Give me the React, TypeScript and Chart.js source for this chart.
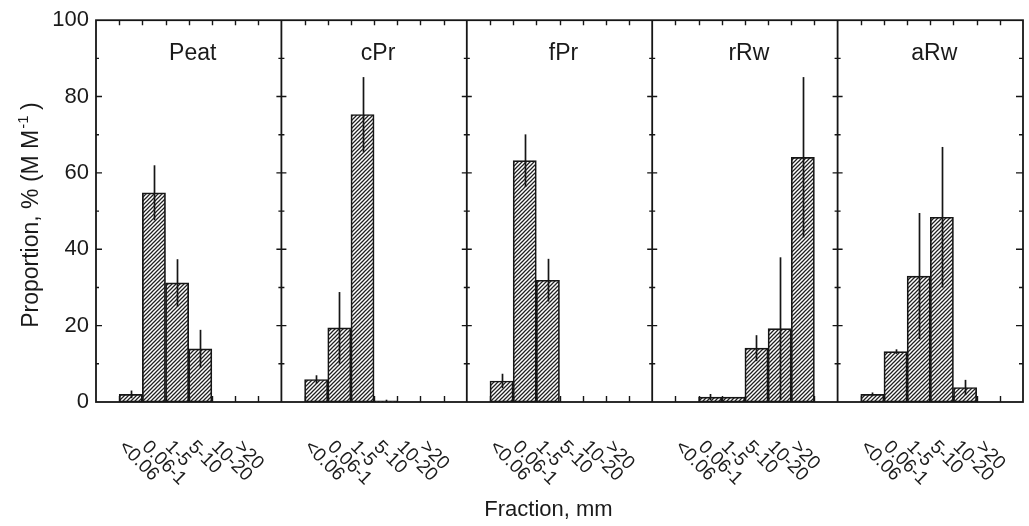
import { useEffect, useRef } from "react";
import { Chart, registerables } from "chart.js";

Chart.register(...registerables);

// Sample types (one panel each) and size fractions (one bar each)
const panels = ["Peat", "cPr", "fPr", "rRw", "aRw"];
const fractions = ["<0.06", "0.06-1", "1-5", "5-10", "10-20", ">20"];
const yTickValues = [0, 20, 40, 60, 80, 100];

// Mean proportion, % (M M-1), and the error half-width for each fraction
const peatMean = [2.0, 54.8, 31.2, 13.9, 0, 0];
const peatErr = [1.0, 7.2, 6.2, 5.0, 0, 0];
const cprMean = [5.9, 19.4, 75.3, 0.3, 0, 0];
const cprErr = [1.1, 9.4, 9.8, 0.3, 0, 0];
const fprMean = [5.5, 63.2, 31.9, 0, 0, 0];
const fprErr = [1.9, 6.9, 5.6, 0, 0, 0];
const rrwMean = [0, 1.3, 1.3, 14.1, 19.2, 64.1];
const rrwErr = [0, 0.8, 0, 3.4, 18.7, 21.0];
const arwMean = [2.0, 13.2, 33.0, 48.4, 3.8, 0];
const arwErr = [0.5, 0.6, 16.5, 18.4, 2.0, 0];

const means = [peatMean, cprMean, fprMean, rrwMean, arwMean];
const errs = [peatErr, cprErr, fprErr, rrwErr, arwErr];

// Each panel is 8 slots wide: an empty slot, six bars, an empty slot
const SLOTS = 8;
const slotOf = (p: number, i: number) => p * SLOTS + 1 + i;

const INK = "#161616";
const TEXT = "#1a1a1a";
const FONT = "'Liberation Sans', Arial, Helvetica, sans-serif";

function makeHatch(): CanvasPattern | string {
  const s = 4;
  const c = document.createElement("canvas");
  c.width = s;
  c.height = s;
  const g = c.getContext("2d");
  if (!g) return "#888";
  g.fillStyle = "#ffffff";
  g.fillRect(0, 0, s, s);
  g.strokeStyle = "#202020";
  g.lineWidth = 1.25;
  g.beginPath();
  g.moveTo(0, s);
  g.lineTo(s, 0);
  g.moveTo(-1, 1);
  g.lineTo(1, -1);
  g.moveTo(s - 1, s + 1);
  g.lineTo(s + 1, s - 1);
  g.stroke();
  const pat = g.createPattern(c, "repeat");
  return pat || "#888";
}

// Error bars: plain vertical lines through the bar tops
const errorBars = {
  id: "errorBars",
  afterDatasetsDraw(chart: any) {
    const { ctx } = chart;
    const x = chart.scales.x;
    const y = chart.scales.y;
    ctx.save();
    ctx.strokeStyle = INK;
    ctx.lineWidth = 1.7;
    means.forEach((m, p) => {
      m.forEach((v, i) => {
        const e = errs[p][i];
        if (!e) return;
        const px = Math.round(x.getPixelForValue(slotOf(p, i))) + 0.5;
        ctx.beginPath();
        ctx.moveTo(px, y.getPixelForValue(Math.max(0, v - e)));
        ctx.lineTo(px, y.getPixelForValue(v + e));
        ctx.stroke();
      });
    });
    ctx.restore();
  },
};

// Frame, panel dividers, inward ticks, panel names and axis texts
const frame = {
  id: "frame",
  afterDraw(chart: any) {
    const { ctx, chartArea: a } = chart;
    const x = chart.scales.x;
    const y = chart.scales.y;
    const edge = (v: number) => x.getPixelForValue(v - 0.5);
    ctx.save();
    ctx.strokeStyle = INK;
    ctx.lineWidth = 1.8;
    ctx.strokeRect(a.left, a.top, a.right - a.left, a.bottom - a.top);

    const minor = [10, 30, 50, 70, 90];
    const major = [20, 40, 60, 80];
    ctx.lineWidth = 1.4;
    ctx.beginPath();
    // left axis, ticks pointing in
    major.forEach((v) => {
      const py = y.getPixelForValue(v);
      ctx.moveTo(a.left, py);
      ctx.lineTo(a.left + 6, py);
    });
    minor.forEach((v) => {
      const py = y.getPixelForValue(v);
      ctx.moveTo(a.left, py);
      ctx.lineTo(a.left + 3, py);
    });
    // right edge, ticks pointing in
    major.forEach((v) => {
      const py = y.getPixelForValue(v);
      ctx.moveTo(a.right, py);
      ctx.lineTo(a.right - 7, py);
    });
    minor.forEach((v) => {
      const py = y.getPixelForValue(v);
      ctx.moveTo(a.right, py);
      ctx.lineTo(a.right - 4, py);
    });
    ctx.stroke();

    // panel dividers with ticks crossing both ways
    ctx.lineWidth = 1.8;
    ctx.beginPath();
    for (let p = 1; p < panels.length; p++) {
      const px = edge(p * SLOTS);
      ctx.moveTo(px, a.top);
      ctx.lineTo(px, a.bottom);
    }
    ctx.stroke();
    ctx.lineWidth = 1.4;
    ctx.beginPath();
    for (let p = 1; p < panels.length; p++) {
      const px = edge(p * SLOTS);
      major.forEach((v) => {
        const py = y.getPixelForValue(v);
        ctx.moveTo(px - 5, py);
        ctx.lineTo(px + 5, py);
      });
      minor.forEach((v) => {
        const py = y.getPixelForValue(v);
        ctx.moveTo(px - 3, py);
        ctx.lineTo(px + 3, py);
      });
    }
    // top and bottom ticks at every bar edge
    for (let p = 0; p < panels.length; p++) {
      for (let k = 1; k < SLOTS; k++) {
        const px = Math.round(edge(p * SLOTS + k)) + 0.5;
        ctx.moveTo(px, a.top);
        ctx.lineTo(px, a.top + 5);
        ctx.moveTo(px, a.bottom);
        ctx.lineTo(px, a.bottom - 6);
      }
    }
    ctx.stroke();

    ctx.fillStyle = TEXT;
    // panel names
    ctx.font = `23px ${FONT}`;
    ctx.textAlign = "center";
    ctx.textBaseline = "middle";
    panels.forEach((name, p) => {
      ctx.fillText(name, x.getPixelForValue(p * SLOTS + 3.5) + 4, 54);
    });

    // slanted fraction labels under each bar
    ctx.font = `19px ${FONT}`;
    ctx.textAlign = "left";
    ctx.textBaseline = "middle";
    panels.forEach((_, p) => {
      fractions.forEach((f, i) => {
        const cx = x.getPixelForValue(slotOf(p, i));
        ctx.save();
        ctx.translate(cx - 9, a.bottom + 42);
        ctx.rotate(Math.PI / 4);
        ctx.fillText(f, 0, 0);
        ctx.restore();
      });
    });

    // x-axis title
    ctx.font = `22px ${FONT}`;
    ctx.textAlign = "center";
    ctx.fillText("Fraction, mm", (a.left + a.right) / 2 - 11, 510);

    // y-axis title with superscript
    const main = "Proportion, % (M M";
    const sup = "-1";
    const tail = " )";
    ctx.font = `23px ${FONT}`;
    const w1 = ctx.measureText(main).width;
    const w3 = ctx.measureText(tail).width;
    ctx.font = `15px ${FONT}`;
    const w2 = ctx.measureText(sup).width;
    const total = w1 + w2 + w3;
    ctx.save();
    ctx.translate(32, (a.top + a.bottom) / 2 + 4);
    ctx.rotate(-Math.PI / 2);
    ctx.textAlign = "left";
    ctx.textBaseline = "middle";
    ctx.font = `23px ${FONT}`;
    ctx.fillText(main, -total / 2, 0);
    ctx.font = `15px ${FONT}`;
    ctx.fillText(sup, -total / 2 + w1 + 1, -8);
    ctx.font = `23px ${FONT}`;
    ctx.fillText(tail, -total / 2 + w1 + w2, 0);
    ctx.restore();

    ctx.restore();
  },
};

export default function App() {
  const ref = useRef<HTMLCanvasElement | null>(null);

  useEffect(() => {
    if (!ref.current) return;
    const labels: string[] = [];
    const data: (number | null)[] = [];
    for (let s = 0; s < panels.length * SLOTS; s++) {
      labels.push("");
      data.push(null);
    }
    panels.forEach((_, p) => {
      fractions.forEach((f, i) => {
        labels[slotOf(p, i)] = f;
        const v = means[p][i];
        data[slotOf(p, i)] = v > 0 ? v : null;
      });
    });

    const chart = new Chart(ref.current, {
      type: "bar",
      data: {
        labels,
        datasets: [
          {
            data,
            backgroundColor: makeHatch() as any,
            borderColor: INK,
            borderWidth: 1.7,
            borderSkipped: false,
            barPercentage: 1,
            categoryPercentage: 1,
          },
        ],
      },
      options: {
        animation: false,
        responsive: false,
        devicePixelRatio: 1,
        layout: { padding: { left: 0, top: 14, right: 6, bottom: 0 } },
        plugins: {
          legend: { display: false },
          tooltip: { enabled: false },
        },
        scales: {
          x: {
            type: "category",
            offset: true,
            grid: { display: false, drawTicks: false },
            border: { display: false },
            ticks: { display: false },
            afterFit: (s: any) => {
              s.height = 124;
            },
          },
          y: {
            min: 0,
            max: 100,
            afterBuildTicks: (s: any) => {
              s.ticks = yTickValues.map((v) => ({ value: v }));
            },
            grid: { display: false, drawTicks: false },
            border: { display: false },
            ticks: {
              padding: 7,
              color: TEXT,
              font: { family: FONT, size: 22 },
            },
            afterFit: (s: any) => {
              s.width = 96;
            },
          },
        },
      },
      plugins: [errorBars, frame],
    });
    return () => chart.destroy();
  }, []);

  return (
    <div style={{ position: "fixed", left: 0, top: 0, width: 1029, height: 526, background: "#fff" }}>
      <canvas ref={ref} width={1029} height={526} style={{ width: 1029, height: 526, display: "block" }} />
    </div>
  );
}
